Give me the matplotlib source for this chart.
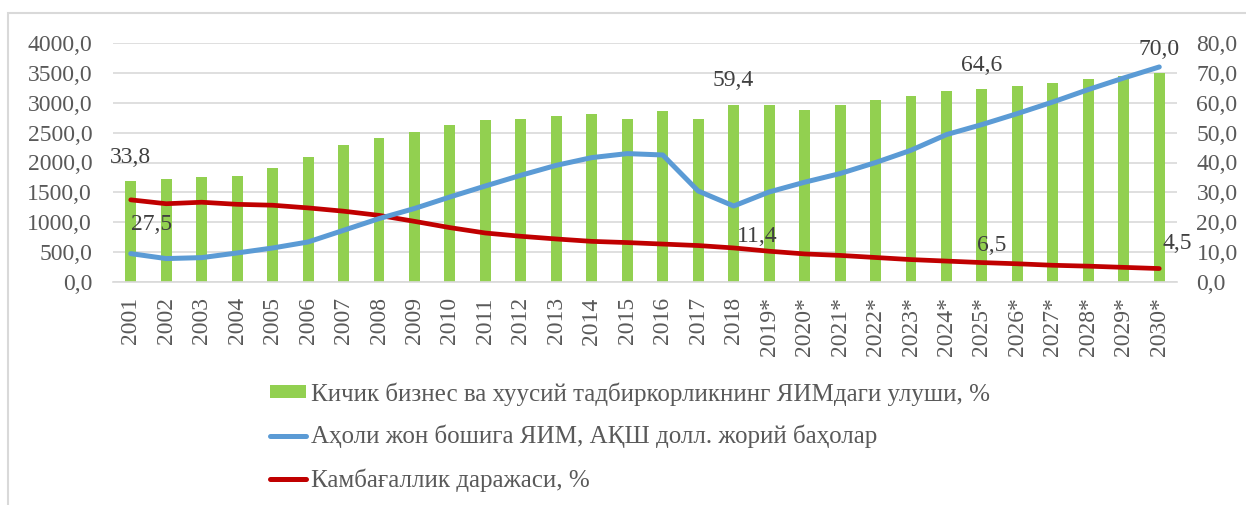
import matplotlib
matplotlib.use("Agg")
import matplotlib.pyplot as plt
from matplotlib.patches import Rectangle, Patch
from matplotlib.lines import Line2D

plt.rcParams['font.family'] = ['Liberation Serif', 'DejaVu Serif']

# data
years = ['2001', '2002', '2003', '2004', '2005', '2006', '2007', '2008', '2009', '2010',
         '2011', '2012', '2013', '2014', '2015', '2016', '2017', '2018', '2019*', '2020*',
         '2021*', '2022*', '2023*', '2024*', '2025*', '2026*', '2027*', '2028*', '2029*', '2030*']
sme_share = [33.8, 34.6, 35.0, 35.6, 38.3, 42.0, 45.7, 48.2, 50.1, 52.4,
             54.1, 54.6, 55.7, 56.1, 54.4, 57.3, 54.7, 59.4, 59.4, 57.6,
             59.1, 60.8, 62.4, 64.0, 64.6, 65.6, 66.7, 67.8, 68.8, 70.0]
gdp_pc = [475, 392, 408, 486, 569, 670, 865, 1061, 1230, 1423,
          1607, 1786, 1953, 2082, 2149, 2126, 1523, 1272, 1507, 1670,
          1815, 1999, 2205, 2467, 2635, 2819, 3013, 3221, 3415, 3599]
poverty = [27.5, 26.2, 26.7, 26.0, 25.7, 24.8, 23.7, 22.3, 20.3, 18.2,
           16.4, 15.3, 14.4, 13.6, 13.2, 12.7, 12.2, 11.4, 10.3, 9.4,
           8.9, 8.2, 7.5, 7.0, 6.5, 6.1, 5.6, 5.3, 4.9, 4.5]

lbl_sme = 'Кичик бизнес ва хуусий тадбиркорликнинг ЯИМдаги улуши, %'
lbl_gdp = 'Аҳоли жон бошига ЯИМ, АҚШ долл. жорий баҳолар'
lbl_pov = 'Камбағаллик даражаси, %'

green = '#92d050'
blue = '#5b9bd5'
red = '#c00000'
tick_col = '#595959'
grid_col = '#d9d9d9'
fs = 17

fig = plt.figure(figsize=(12.46, 5.05), dpi=100)
ax = fig.add_axes([113/1246, 1 - 282/505, (1177-113)/1246, (282-43)/505])
axr = ax.twinx()
ax.set_zorder(axr.get_zorder() + 1)
ax.patch.set_visible(False)

x = list(range(len(years)))

# bars + poverty line on right scale
axr.bar(x, sme_share, width=0.31, color=green, zorder=2)
axr.plot(x, poverty, color=red, lw=3.4, solid_capstyle='round', zorder=3)
axr.set_ylim(0, 80)
axr.set_yticks(range(0, 81, 10))
axr.set_yticklabels([f'{v},0' for v in range(0, 81, 10)])
axr.yaxis.grid(True, color=grid_col, lw=1.2, zorder=0)
axr.set_axisbelow(True)

# GDP per capita line on left scale
ax.plot(x, gdp_pc, color=blue, lw=3.6, solid_capstyle='round', zorder=3)
ax.set_ylim(0, 4000)
ax.set_yticks(range(0, 4001, 500))
ax.set_yticklabels([f'{v},0' for v in range(0, 4001, 500)])
ax.set_xlim(-0.5, len(years) - 0.5)
ax.set_xticks(x)
ax.set_xticklabels(years, rotation=90)

for a in (ax, axr):
    for s in a.spines.values():
        s.set_visible(False)
    a.tick_params(length=0, labelsize=fs, labelcolor=tick_col)
ax.tick_params(axis='y', pad=15)
axr.tick_params(axis='y', pad=14)
ax.tick_params(axis='x', pad=11)
ax.spines['bottom'].set_visible(True)
ax.spines['bottom'].set_color(grid_col)
ax.spines['bottom'].set_linewidth(1.2)

# data labels
for i in [0, 17, 24, 29]:
    axr.annotate(f'{sme_share[i]:.1f}'.replace('.', ','), (i, sme_share[i]),
                 xytext=(0, 17), textcoords='offset points', ha='center', va='center',
                 fontsize=fs, color='#404040', zorder=5)
pov_off = {0: (15, -18), 17: (17, 8), 24: (7, 12), 29: (13, 18)}
for i, (dx, dy) in pov_off.items():
    axr.annotate(f'{poverty[i]:.1f}'.replace('.', ','), (i, poverty[i]),
                 xytext=(dx, dy), textcoords='offset points', ha='center', va='center',
                 fontsize=fs, color='#404040', zorder=5)

handles = [Patch(facecolor=green, edgecolor='none'),
           Line2D([], [], color=blue, lw=3.6, solid_capstyle='round'),
           Line2D([], [], color=red, lw=3.6, solid_capstyle='round')]
fig.legend(handles, [lbl_sme, lbl_gdp, lbl_pov], loc='upper left',
           bbox_to_anchor=(270/1246, 1 - 382/505), frameon=False, fontsize=18,
           labelcolor=tick_col, handlelength=1.44, handleheight=0.4,
           handletextpad=0.2, labelspacing=0.78, borderpad=0, borderaxespad=0)

# outer chart border (cut by the image edge)
fig.patches.append(Rectangle((8/1246, -0.2), 1.5, 1 - 13/505 + 0.2,
                             transform=fig.transFigure, fill=False,
                             edgecolor=grid_col, lw=1.5, clip_on=False))

fig.savefig('out.png', dpi=100)
